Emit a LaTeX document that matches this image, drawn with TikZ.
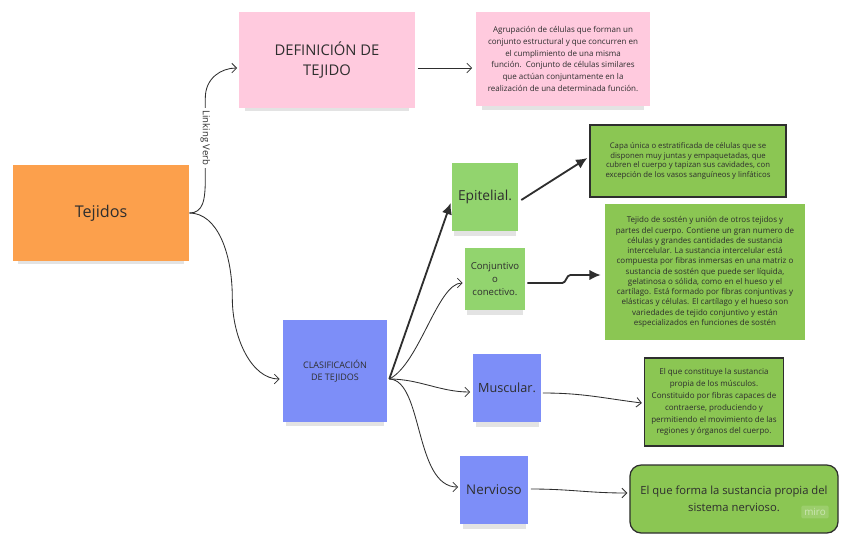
\documentclass[tikz,border=0pt]{standalone}
\usepackage{fontspec}
\setmainfont{Open Sans}
\usepackage{xcolor}
\usepackage{tikz}
\usetikzlibrary{arrows.meta,positioning,shadows,calc}
\definecolor{notaorange}{HTML}{FCA04C}
\definecolor{notapink}{HTML}{FFCADE}
\definecolor{notablue}{HTML}{7D8EF8}
\definecolor{notagreen}{HTML}{92D46E}
\definecolor{descgreen}{HTML}{8BC653}
\definecolor{ink}{HTML}{2E2E2E}
\newcommand{\fsz}[2]{\fontsize{#1}{#2}\selectfont}
\tikzset{
  nota/.style={align=center, inner sep=2pt, text=ink, drop shadow={shadow xshift=0pt, shadow yshift=-5pt, shadow scale=0.94, opacity=.22}},
  desc/.style={align=center, inner sep=2pt, fill=descgreen, text=ink},
  descb/.style={desc, draw=ink, line width=0.9pt},
  thinline/.style={-{Straight Barb[length=1.2mm,width=2.4mm]}, line width=0.6pt, draw=ink},
  boldline/.style={-{Latex[length=2.8mm,width=2.6mm]}, line width=1.3pt, draw=ink},
  verb/.style={rotate=-90, fill=white, inner sep=1.5pt, font=\fsz{6.8}{8}, text=ink}
}

\begin{document}
\begin{tikzpicture}[x=0.025cm, y=-0.025cm]
    \fill[white] (0,0) rectangle (848,535);
    \useasboundingbox (0,0) rectangle (848,535);
    \node[nota, fill=notaorange, minimum width=4.4cm, minimum height=2.375cm, font=\fsz{11.5}{14}] (tej) at (101,213) {Tejidos};
    \node[nota, fill=notapink, minimum width=4.375cm, minimum height=2.375cm, font=\fsz{10.5}{14}] (def) at (327,60) {DEFINICIÓN DE\\TEJIDO};
    \node[nota, fill=notapink, minimum width=4.325cm, minimum height=2.35cm, font=\fsz{5.7}{8.3}] (deftxt) at (563,59) {Agrupación de células que forman un\\conjunto estructural y que concurren en\\el cumplimiento de una misma\\función.\ \ Conjunto de células similares\\que actúan conjuntamente en la\\realización de una determinada función.};
    \node[nota, fill=notablue, minimum width=2.6cm, minimum height=2.55cm, font=\fsz{6.4}{9}] (clas) at (335,371) {CLASIFICACIÓN\\DE TEJIDOS};
    \node[nota, fill=notagreen, minimum width=1.65cm, minimum height=1.7cm, font=\fsz{9.8}{11}] (epi) at (485,197) {Epitelial.};
    \node[nota, fill=notagreen, minimum width=1.5cm, minimum height=1.55cm, font=\fsz{6.8}{9.5}] (conj) at (495,279) {Conjuntivo\\o\\conectivo.};
    \node[nota, fill=notablue, minimum width=1.675cm, minimum height=1.7cm, font=\fsz{9}{11}] (musc) at (507,388) {Muscular.};
    \node[nota, fill=notablue, minimum width=1.675cm, minimum height=1.7cm, font=\fsz{9.5}{11}] (nerv) at (494,490) {Nervioso};
    \node[descb, minimum width=4.9cm, minimum height=1.8cm, font=\fsz{5.5}{7}] (capa) at (688,161) {Capa única o estratificada de células que se\\disponen muy juntas y empaquetadas, que\\cubren el cuerpo y tapizan sus cavidades, con\\excepción de los vasos sanguíneos y linfáticos};
    \node[desc, minimum width=5cm, minimum height=3.375cm, font=\fsz{5.7}{7.3}] (sost) at (705,272) {Tejido de sostén y unión de otros tejidos y\\partes del cuerpo. Contiene un gran numero de\\células y grandes cantidades de sustancia\\intercelular. La sustancia intercelular está\\compuesta por fibras inmersas en una matriz o\\sustancia de sostén que puede ser líquida,\\gelatinosa o sólida, como en el hueso y el\\cartílago. Está formado por fibras conjuntivas y\\elásticas y células. El cartílago y el hueso son\\variedades de tejido conjuntivo y están\\especializados en funciones de sostén};
    \node[descb, minimum width=3.475cm, minimum height=2.2cm, font=\fsz{5.7}{8.5}] (mtxt) at (714,402) {El que constituye la sustancia\\propia de los músculos.\\Constituido por fibras capaces de\\contraerse, produciendo y\\permitiendo el movimiento de las\\regiones y órganos del cuerpo.};
    \node[descb, rounded corners=8pt, minimum width=5.2cm, minimum height=1.7cm, font=\fsz{8}{12}] (ntxt) at (734,499) {El que forma la sustancia propia del\\sistema nervioso.};
    \node[font=\fsz{7}{8}, text=white, text opacity=.5, fill=white, fill opacity=.15, rounded corners=1pt, inner sep=2pt] (miro) at (815,512) {miro};
    \coordinate (cl) at ($(clas.east)+(2,8)$);
    \draw[thinline] (tej.east) .. controls +(14,0) and +(0,22) .. ++(16,-35) -- node[verb]{Linking Verb} ++(0,-80) .. controls +(0,-20) and +(-16,0) .. ($(def.west)+(-2,8)$);
    \draw[thinline] (tej.east) .. controls +(28,0) and +(0,-45) .. ++(43,85) .. controls +(0,40) and +(-28,0) .. ($(clas.west)+(-3,8)$);
    \draw[thinline] ($(def.east)+(3,8)$) -- ($(deftxt.west)+(-4,9)$);
    \draw[boldline] (cl) -- ($(epi.west)+(-1,6)$);
    \draw[thinline] (cl) .. controls +(30,-15) and +(-25,0) .. ($(conj.west)+(-2,4)$);
    \draw[thinline] (cl) .. controls +(30,0) and +(-30,0) .. ($(musc.west)+(-3,4)$);
    \draw[thinline] (cl) .. controls +(34,1) and +(-44,0) .. ($(nerv.west)+(-2,-3)$);
    \draw[boldline] ($(epi.east)+(3,3)$) -- ($(capa.west)+(-2,-3)$);
    \draw[boldline] ($(conj.east)+(2,4)$) -- ++(35,0) .. controls +(4,0) and +(-4,0) .. ++(8,-8) -- ($(sost.west)+(-4,3)$);
    \draw[thinline] ($(musc.east)+(2,5)$) .. controls +(40,0) and +(-40,-5) .. ($(mtxt.west)+(-2,1)$);
    \draw[thinline] ($(nerv.east)+(3,-1)$) .. controls +(40,0) and +(-40,0) .. ($(ntxt.west)+(-2,-6)$);
  \end{tikzpicture}
\end{document}
